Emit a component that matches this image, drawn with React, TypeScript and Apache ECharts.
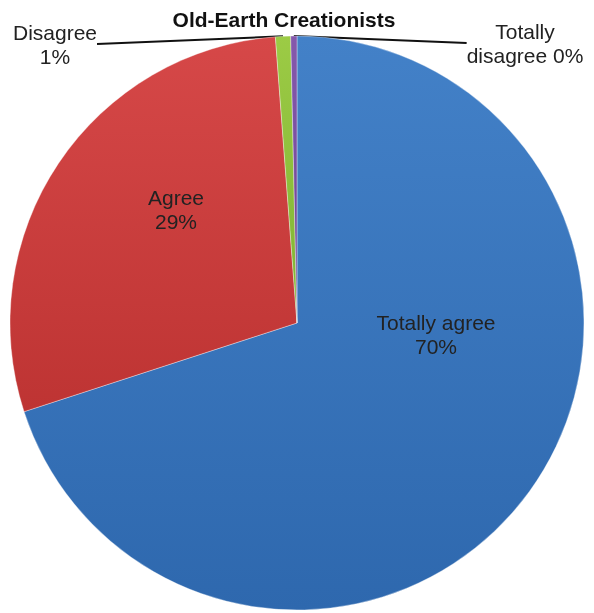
import React, { useEffect, useRef } from "react";
import * as echarts from "echarts";

const title = "Old-Earth Creationists";
const categories = ["Totally agree", "Agree", "Disagree", "Totally disagree"];
const values = [70.0, 28.8, 0.85, 0.35];
const colors = [
  ["#4381C8", "#2E68AE"],
  ["#D64848", "#BE3433"],
  ["#9CCB45", "#7FB233"],
  ["#8559AC", "#6A4391"],
];
const labelPos = [
  [436, 334],
  [176, 209],
  [55, 44],
  [525, 43],
];

export default function App() {
  const ref = useRef<HTMLDivElement>(null);
  useEffect(() => {
    if (!ref.current) return;
    const chart = echarts.init(ref.current, null, { renderer: "svg" });
    const total = values.reduce((a, b) => a + b, 0);
    const data = categories.map((name, i) => ({
      name,
      value: values[i],
      itemStyle: {
        color: new echarts.graphic.LinearGradient(0, 0, 0, 1, [
          { offset: 0, color: colors[i][0] },
          { offset: 1, color: colors[i][1] },
        ]),
      },
      label: {
        position: i < 2 ? "inside" : "outside",
      },
      labelLine: { show: i >= 2 },
    }));
    chart.setOption({
      animation: false,
      title: {
        text: title,
        left: 279,
        textAlign: "center",
        top: 4,
        textStyle: {
          fontFamily: "Liberation Sans, Arial, sans-serif",
          fontSize: 21,
          fontWeight: "bold",
          color: "#111",
        },
      },
      series: [
        {
          type: "pie",
          center: [297, 323],
          radius: [0, 287],
          startAngle: 90,
          clockwise: true,
          data,
          itemStyle: {
            borderColor: "rgba(255,255,255,0.35)",
            borderWidth: 1,
          },
          label: {
            show: true,
            fontFamily: "Liberation Sans, Arial, sans-serif",
            fontSize: 21,
            color: "#222",
            lineHeight: 24,
            align: "center",
            formatter: (p: any) =>
              `${p.name === "Totally disagree" ? "Totally\ndisagree" : p.name}${
                p.name === "Totally disagree" ? " " : "\n"
              }${Math.round((p.value / total) * 100)}%`,
          },
          labelLine: {
            show: true,
            length: 5,
            length2: 0,
            lineStyle: { color: "#111", width: 2 },
          },
          labelLayout: (params: any) => {
            const p = labelPos[params.dataIndex];
            return {
              x: p[0],
              y: p[1],
              align: "center",
              verticalAlign: "middle",
            };
          },
        },
      ],
    });
    return () => chart.dispose();
  }, []);
  return (
    <div
      ref={ref}
      style={{ position: "fixed", left: 0, top: 0, width: 594, height: 613 }}
    />
  );
}
